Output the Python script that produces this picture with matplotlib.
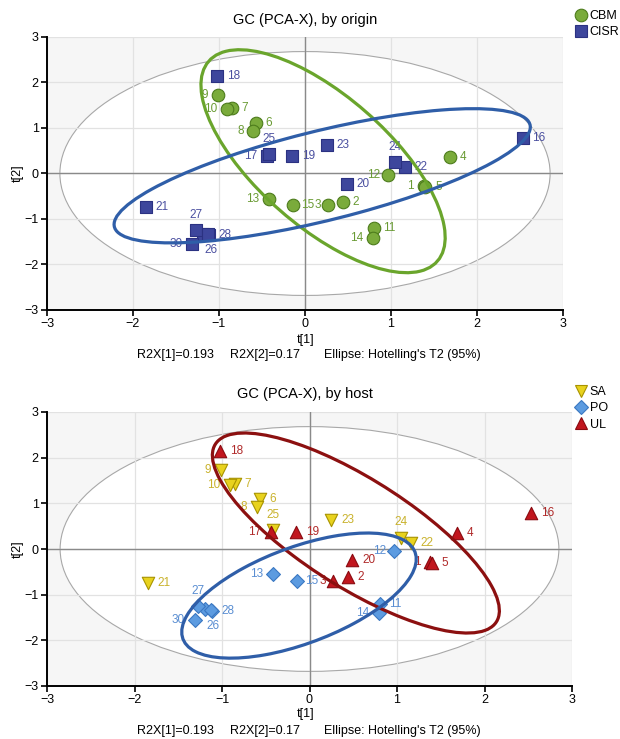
import numpy as np
import matplotlib
matplotlib.use("Agg")
from matplotlib import pyplot as plt
from matplotlib.patches import Ellipse
from matplotlib.lines import Line2D

plt.rcParams["font.family"] = ["Liberation Sans", "DejaVu Sans"]

# PCA-X scores for the 30 GC samples
sample_ids = list(range(1, 31))
t1 = [1.38, 0.44, 0.27, 1.69, 1.40, -0.57, -0.85, -0.60, -1.01, -0.91,
      0.80, 0.96, -0.42, 0.79, -0.14, 2.53, -0.44, -1.02, -0.15, 0.49,
      -1.85, 1.16, 0.25, 1.05, -0.42, -1.19, -1.27, -1.12, -1.13, -1.31]
t2 = [-0.28, -0.62, -0.69, 0.36, -0.30, 1.10, 1.43, 0.93, 1.72, 1.41,
      -1.20, -0.04, -0.55, -1.41, -0.70, 0.79, 0.38, 2.14, 0.38, -0.23,
      -0.74, 0.14, 0.63, 0.25, 0.42, -1.32, -1.25, -1.35, -1.33, -1.55]
origin = ["CBM"] * 15 + ["CISR"] * 15
host = (["UL"] * 5 + ["SA"] * 5 + ["PO"] * 5 + ["UL"] * 5
        + ["SA"] * 5 + ["PO"] * 5)

# Hotelling's T2 (95%) limits
t2_limit_x = 2.85
t2_limit_y = 2.68

# class ellipses: centre, var(t1), var(t2), cov(t1, t2)
origin_ellipses = {
    "CBM": (0.21, 0.27, 1.42 ** 2, 2.45 ** 2, -2.38),
    "CISR": (0.20, -0.05, 2.42 ** 2, 1.475 ** 2, 2.59),
}
host_ellipses = {
    "UL": (0.53, 0.35, 1.64 ** 2, 2.19 ** 2, -2.79),
    "PO": (-0.12, -1.02, 1.34 ** 2, 1.37 ** 2, 1.07),
}

r2x = [0.193, 0.17]

origin_style = {
    "CBM": dict(marker="o", s=82, fc="#7aab3b", ec="#4d7c1c", text="#6a9b34", line="#6aa52c"),
    "CISR": dict(marker="s", s=70, fc="#3d469c", ec="#2b3282", text="#4b50a0", line="#2f5ea8"),
}
host_style = {
    "SA": dict(marker="v", s=80, fc="#e8d21e", ec="#a89300", text="#c9b22c", line="#c9b22c"),
    "PO": dict(marker="D", s=50, fc="#5c9be0", ec="#3b78c2", text="#5a8ed2", line="#2f5ea8"),
    "UL": dict(marker="^", s=80, fc="#c1161e", ec="#8a0a10", text="#b02a2a", line="#8c1010"),
}

# where each point label sits relative to its marker (points, alignment)
RIGHT = (7, 0, "left", "center")
LEFT = (-7, 0, "right", "center")
ABOVE = (0, 11, "center", "center")
label_pos = {i: RIGHT for i in sample_ids}
for i in (1, 8, 9, 10, 13, 14, 17, 30):
    label_pos[i] = LEFT
for i in (24, 25, 27):
    label_pos[i] = ABOVE
label_pos[12] = (-5.5, 0, "right", "center")
label_pos[15] = (5.5, 0, "left", "center")
label_pos[3] = (-5, 0, "right", "center")
label_pos[26] = (1, -12, "left", "center")
label_pos[29] = None


def draw_ellipse(ax, params, color):
    cx, cy, vx, vy, cxy = params
    vals, vecs = np.linalg.eigh(np.array([[vx, cxy], [cxy, vy]]))
    angle = np.degrees(np.arctan2(vecs[1, 1], vecs[0, 1]))
    ax.add_patch(Ellipse((cx, cy), 2 * np.sqrt(vals[1]), 2 * np.sqrt(vals[0]),
                         angle=angle, fill=False, ec=color, lw=2.3, zorder=5))


def score_plot(ax, groups, styles, ellipses):
    ax.set_facecolor("#f6f6f6")
    ax.set_axisbelow(True)
    ax.add_patch(Ellipse((0, 0), 2 * t2_limit_x, 2 * t2_limit_y, fc="white",
                         ec="#a8a8a8", lw=0.8, zorder=0.1))
    ax.grid(True, color="#e2e2e2", lw=0.9)
    ax.axhline(0, color="#8a8a8a", lw=1.0, zorder=0.6)
    ax.axvline(0, color="#8a8a8a", lw=1.0, zorder=0.6)

    x = np.array(t1)
    y = np.array(t2)
    g = np.array(groups)
    for name, st in styles.items():
        m = g == name
        ax.scatter(x[m], y[m], marker=st["marker"], s=st["s"], c=st["fc"],
                   edgecolors=st["ec"], linewidths=0.8, zorder=3)
    for i, xi, yi, gi in zip(sample_ids, t1, t2, groups):
        pos = label_pos[i]
        if pos is None:
            continue
        dx, dy, ha, va = pos
        ax.annotate(str(i), (xi, yi), xytext=(dx, dy), textcoords="offset points",
                    ha=ha, va=va, fontsize=8.5, color=styles[gi]["text"], zorder=4)
    for name, params in ellipses.items():
        draw_ellipse(ax, params, styles[name]["line"])

    ax.set_xlim(-3, 3)
    ax.set_ylim(-3, 3)
    ax.set_xticks(range(-3, 4))
    ax.set_yticks(range(-3, 4))
    for side in ("top", "right"):
        ax.spines[side].set_visible(False)
    for side in ("left", "bottom"):
        ax.spines[side].set_linewidth(1.4)
    ax.tick_params(direction="out", length=4, width=1.2, labelsize=9, pad=2)


fig = plt.figure(figsize=(6.2, 7.39), dpi=100)
ax_top = fig.add_axes([47 / 620, 1 - 310 / 739, 516 / 620, 273 / 739])
ax_bot = fig.add_axes([47 / 620, 1 - 686 / 739, 525 / 620, 274 / 739])

score_plot(ax_top, origin, origin_style, origin_ellipses)
score_plot(ax_bot, host, host_style, host_ellipses)

panels = [
    (ax_top, "GC (PCA-X), by origin", origin_style, 20, 340, 355, 19),
    (ax_bot, "GC (PCA-X), by host", host_style, 394, 714, 731, 395),
]
for ax, title, styles, y_title, y_xlab, y_foot, y_leg in panels:
    fig.text(305 / 620, 1 - y_title / 739, title, ha="center", va="center", fontsize=10.5)
    fig.text(306 / 620, 1 - y_xlab / 739, "t[1]", ha="center", va="center", fontsize=9)
    y_mid = ax.get_position().y0 + ax.get_position().height / 2
    fig.text(18 / 620, y_mid, "t[2]", ha="center", va="center", rotation=90, fontsize=9)
    fig.text(137 / 620, 1 - y_foot / 739, f"R2X[1]={r2x[0]}", ha="left", va="center", fontsize=9)
    fig.text(230 / 620, 1 - y_foot / 739, f"R2X[2]={r2x[1]}", ha="left", va="center", fontsize=9)
    fig.text(324 / 620, 1 - y_foot / 739, "Ellipse: Hotelling's T2 (95%)",
             ha="left", va="center", fontsize=9)

    handles = [Line2D([], [], ls="", marker=st["marker"], mfc=st["fc"], mec=st["ec"],
                      mew=0.8, ms=np.sqrt(st["s"])) for st in styles.values()]
    fig.legend(handles, list(styles.keys()), loc="upper left",
               bbox_to_anchor=(576 / 620, 1 - (y_leg - 9) / 739),
               frameon=False, fontsize=9, handlelength=0.8, handletextpad=0.3,
               labelspacing=0.35, borderpad=0, borderaxespad=0)

fig.savefig("out.png", dpi=100)
